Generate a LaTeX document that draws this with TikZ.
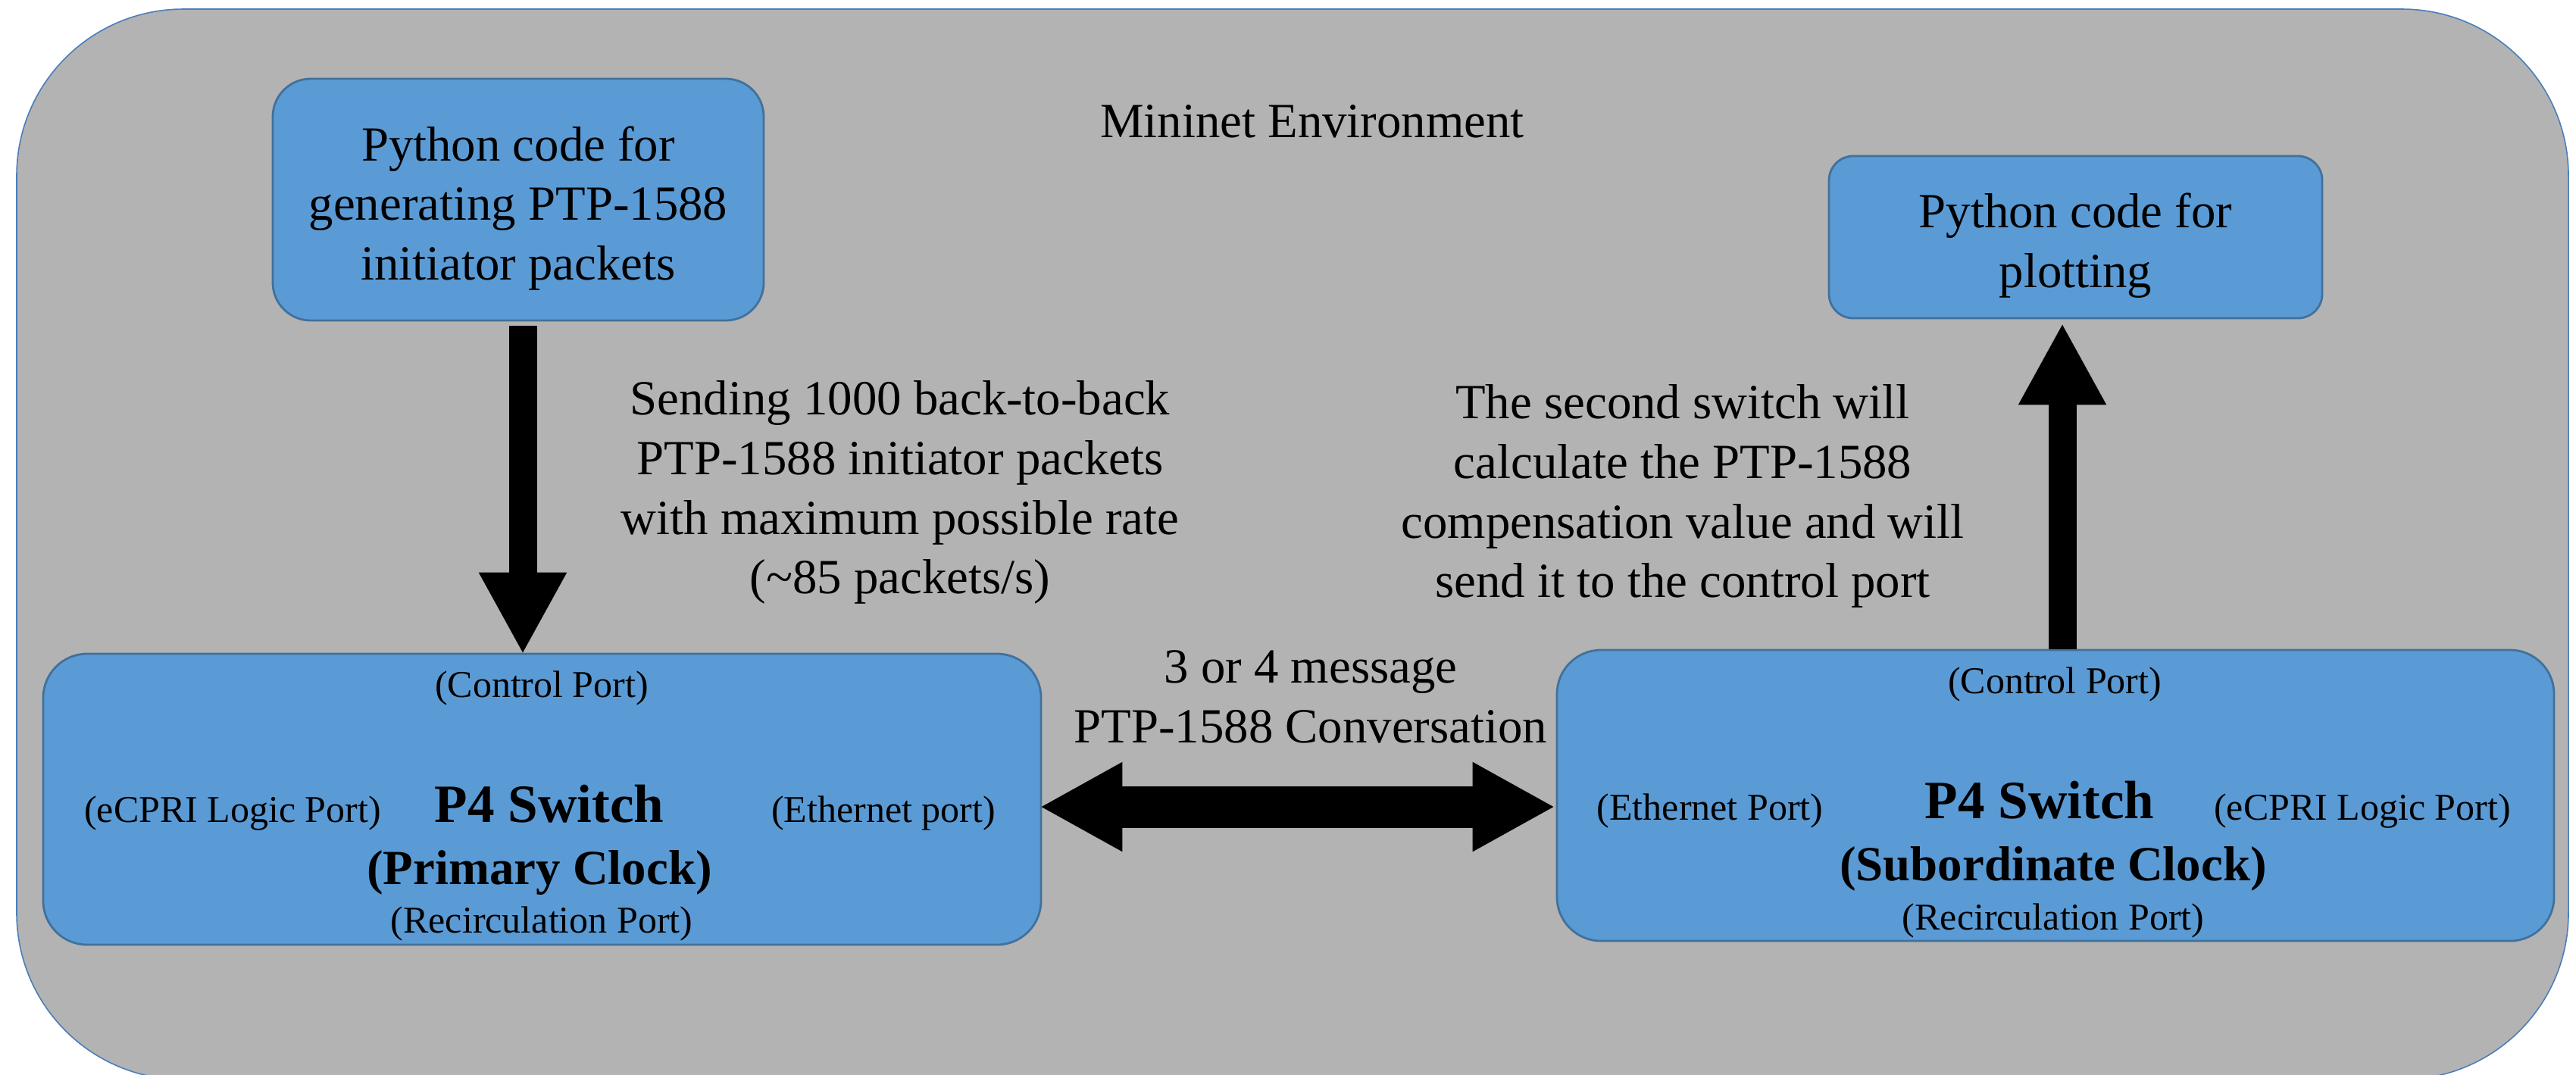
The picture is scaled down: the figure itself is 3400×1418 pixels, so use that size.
\documentclass[tikz,border=0pt]{standalone}
\usepackage{fontspec}
\setmainfont{Liberation Serif}
\usetikzlibrary{arrows.meta,calc}
\definecolor{envgray}{RGB}{179,179,179}
\definecolor{envline}{RGB}{74,126,187}
\definecolor{boxblue}{RGB}{91,155,213}
\definecolor{boxline}{RGB}{65,113,156}
\newcommand{\bodysize}{\fontsize{16.2}{19.7}\selectfont}
\newcommand{\portsize}{\fontsize{12.5}{15}\selectfont}
\newcommand{\titlesize}{\fontsize{17.8}{21}\selectfont\bfseries}
\begin{document}
\begin{tikzpicture}[x=0.25pt,y=0.25pt,yscale=-1,xscale=1,
  blockbox/.style={draw=boxline,fill=boxblue,line width=0.7pt,inner sep=0pt},
  portlbl/.style={anchor=base,inner sep=0.75pt,font=\portsize},
  bodylbl/.style={inner sep=0.75pt,align=center,font=\bodysize},
  bigarrow/.style={line width=9.25pt,-{Triangle[length=27pt,width=27pt]}},
  dblarrow/.style={line width=13.75pt,{Triangle[length=27.25pt,width=27.5pt]}-{Triangle[length=27.25pt,width=27.5pt]}}]
\useasboundingbox (0,0) rectangle (3400,1418);
\clip (0,0) rectangle (3400,1418);

%Shape: Rounded Rect [Mininet environment]
\draw [draw=envline,fill=envgray,line width=0.4pt,rounded corners=55pt] (22,12) rectangle (3390,1425);
% Text Node
\node [anchor=base,inner sep=0.75pt,font=\bodysize] (envlbl) at (1732,181) {Mininet Environment};

%Shape: Rounded Rect [python boxes]
\node [blockbox,rounded corners=12.5pt,minimum width=162pt,minimum height=79.75pt] (gen) at (684,263.5) {};
\node [blockbox,rounded corners=8pt,minimum width=162.75pt,minimum height=53.5pt] (plot) at (2739.5,313) {};
% Text Node
\node [bodylbl] (gentxt) at (684,275) {Python code for\\generating PTP-1588\\initiator packets};
\node [bodylbl] (plottxt) at (2739.5,324) {Python code for\\plotting};

%Shape: Rounded Rect [switches]
\node [blockbox,rounded corners=14.5pt,minimum width=329.25pt,minimum height=96pt] (swA) at (715.5,1055) {};
\node [blockbox,rounded corners=14.5pt,minimum width=329pt,minimum height=96pt] (swB) at (2713,1050) {};

% Text Node [primary switch]
\node [portlbl] (ctlA) at (715,920) {(Control Port)};
\node [portlbl] (ecpriA) at (307,1085) {(eCPRI Logic Port)};
\node [portlbl,font=\titlesize] (titleA) at (725,1085) {P4 Switch};
\node [portlbl] (ethA) at (1166,1085) {(Ethernet port)};
\node [portlbl,font=\bodysize\bfseries] (clkA) at (712,1167) {(Primary Clock)};
\node [portlbl] (recA) at (715,1231) {(Recirculation Port)};

% Text Node [subordinate switch]
\node [portlbl] (ctlB) at (2712,915) {(Control Port)};
\node [portlbl] (ethB) at (2257,1082) {(Ethernet Port)};
\node [portlbl,font=\titlesize] (titleB) at (2692,1080) {P4 Switch};
\node [portlbl] (ecpriB) at (3118,1082) {(eCPRI Logic Port)};
\node [portlbl,font=\bodysize\bfseries] (clkB) at (2710,1162) {(Subordinate Clock)};
\node [portlbl] (recB) at (2710,1227) {(Recirculation Port)};

% Text Node [arrow labels]
\node [bodylbl] (sendlbl) at (1188,650) {Sending 1000 back-to-back\\PTP-1588 initiator packets\\with maximum possible rate\\(\textasciitilde 85 packets/s)};
\node [bodylbl] (calclbl) at (2221,655) {The second switch will\\calculate the PTP-1588\\compensation value and will\\send it to the control port};
\node [bodylbl] (convlbl) at (1730,920) {3 or 4 message\\PTP-1588 Conversation};

%Shape: Arrows
\draw [bigarrow] ($(gen.south)+(6,6)$) -- ($(gen.south |- swA.north)+(6,2)$);
\draw [bigarrow] ($(swB.north)+(9,0)$) -- ($(swB.north |- plot.south)+(9,5)$);
\draw [dblarrow] ($(swA.east)+(-3,10)$) -- ($(swB.west)+(-1,15)$);
\end{tikzpicture}
\end{document}
